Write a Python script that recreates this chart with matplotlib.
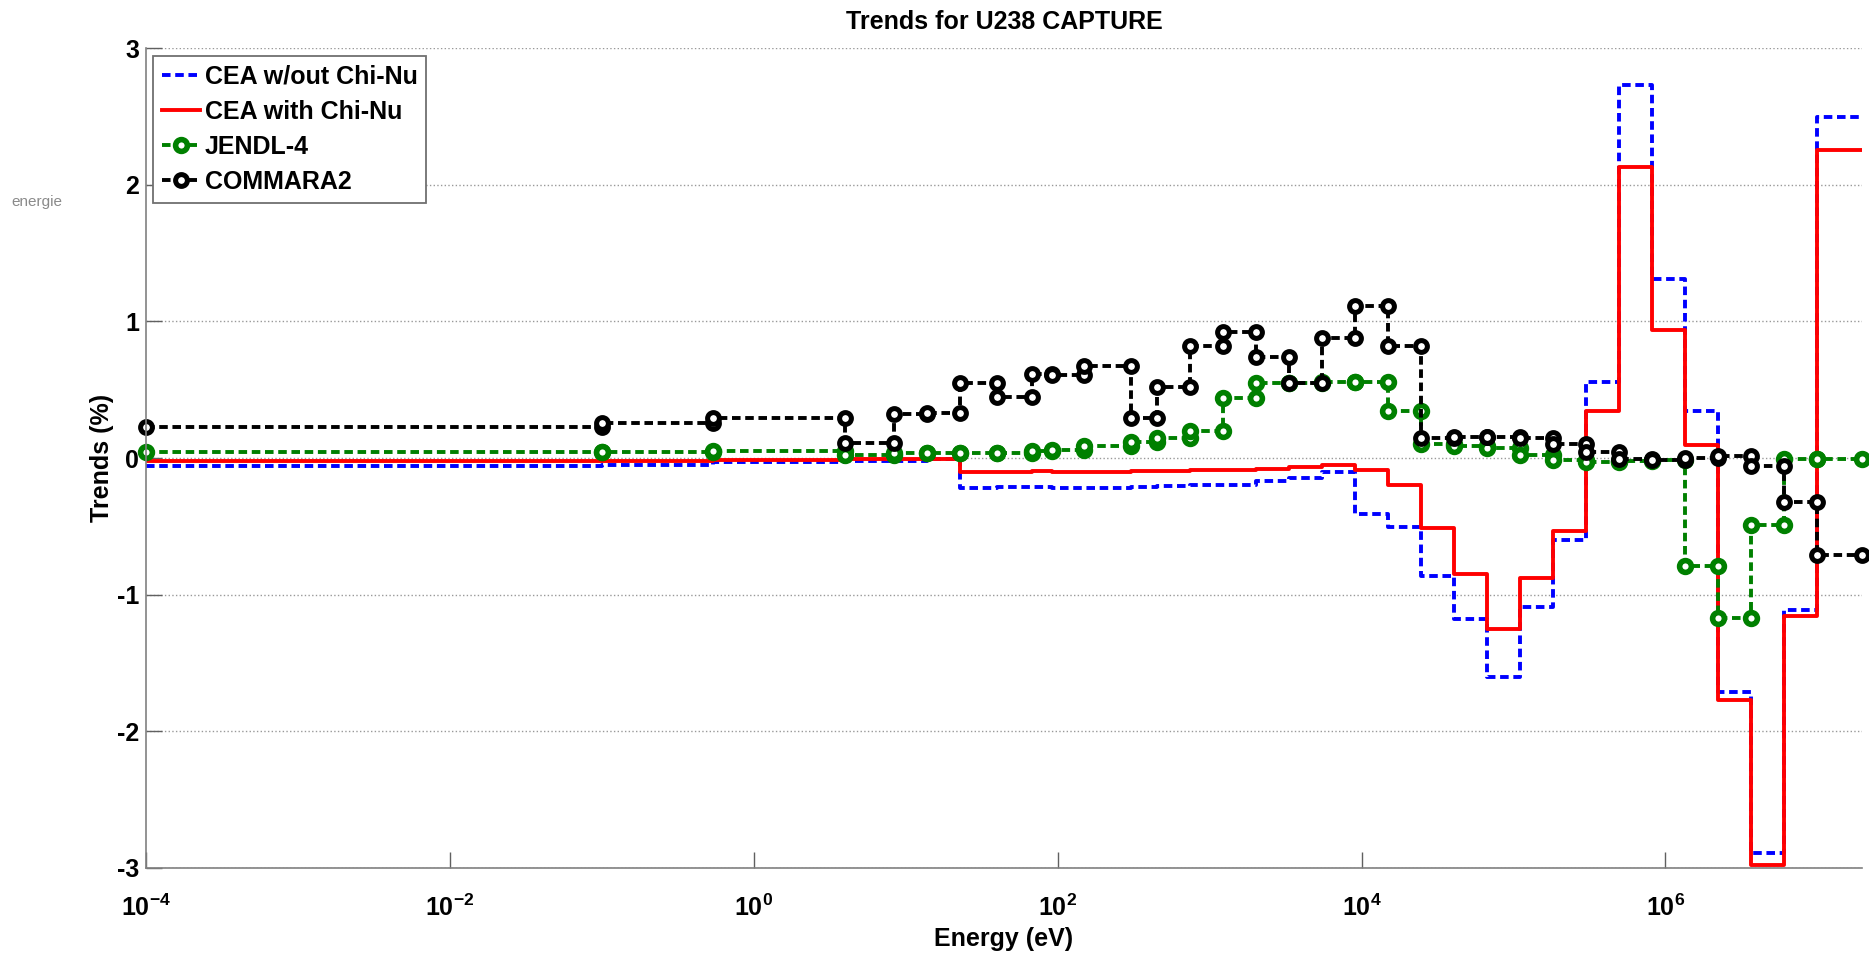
import numpy as np
import matplotlib
matplotlib.use("Agg")
import matplotlib.pyplot as plt
from matplotlib.ticker import FixedLocator, FuncFormatter

plt.rcParams['font.family'] = ['Liberation Sans', 'DejaVu Sans']
plt.rcParams['font.weight'] = 'bold'
plt.rcParams['axes.unicode_minus'] = False
plt.rcParams['mathtext.fontset'] = 'custom'
plt.rcParams['mathtext.rm'] = 'Liberation Sans:bold'
plt.rcParams['mathtext.it'] = 'Liberation Sans:bold'
plt.rcParams['mathtext.bf'] = 'Liberation Sans:bold'

# ECCO 33-group energy boundaries (eV), ascending
edges = [1e-4, 0.1, 0.54, 4.0, 8.3153, 13.710, 22.603, 40.169, 67.904, 91.661,
         148.63, 304.33, 454.00, 748.52, 1234.1, 2034.7, 3354.6, 5530.8, 9118.8,
         15034, 24788, 40868, 67379, 111090, 183160, 301970, 497870, 820850,
         1353400, 2231300, 3678800, 6065300, 1.0e7, 1.964e7]

# trends (%) per group, lowest energy group first
cea_wout = [-0.056, -0.049, -0.03, -0.02, -0.024, -0.008, -0.219, -0.209, -0.214, -0.219,
            -0.219, -0.214, -0.204, -0.194, -0.2, -0.165, -0.145, -0.105, -0.41, -0.507,
            -0.86, -1.18, -1.6, -1.09, -0.60, 0.559, 2.73, 1.307, 0.341, -1.71,
            -2.89, -1.11, 2.497]
cea_with = [-0.025, -0.025, -0.012, -0.005, -0.005, -0.005, -0.105, -0.10, -0.097, -0.105,
            -0.10, -0.097, -0.092, -0.09, -0.085, -0.08, -0.068, -0.05, -0.088, -0.195,
            -0.512, -0.85, -1.25, -0.88, -0.537, 0.341, 2.127, 0.939, 0.098, -1.774,
            -2.98, -1.154, 2.257]
jendl4 = [0.041, 0.046, 0.053, 0.02, 0.04, 0.034, 0.04, 0.036, 0.05, 0.06,
          0.09, 0.12, 0.15, 0.197, 0.442, 0.552, 0.549, 0.554, 0.559, 0.346,
          0.10, 0.09, 0.07, 0.024, -0.015, -0.027, -0.02, -0.015, -0.787, -1.17,
          -0.49, -0.005, -0.005]
commara2 = [0.224, 0.258, 0.29, 0.107, 0.32, 0.33, 0.552, 0.45, 0.617, 0.608,
            0.673, 0.29, 0.52, 0.82, 0.923, 0.739, 0.549, 0.878, 1.112, 0.82,
            0.146, 0.156, 0.151, 0.146, 0.102, 0.046, -0.007, -0.015, 0.0, 0.017,
            -0.06, -0.32, -0.71]


def steps(vals):
    e = np.array(edges)
    x = np.column_stack([e[:-1], e[1:]]).ravel()
    y = np.repeat(np.array(vals), 2)
    return x, y


fig = plt.figure(figsize=(18.69, 9.55), dpi=100)
ax = fig.add_axes([0.0781, 0.0911, 0.9181, 0.8586])

lw = 2.8
dash = (2.2, 1.2)
x, y = steps(cea_wout)
ax.plot(x, y, color='#0000ff', lw=lw, dashes=dash, label='CEA w/out Chi-Nu')
x, y = steps(cea_with)
ax.plot(x, y, color='#ff0000', lw=lw, label='CEA with Chi-Nu')
x, y = steps(jendl4)
ax.plot(x, y, color='#008000', lw=lw, dashes=dash, marker='o', ms=8.5,
        mfc='white', mew=4.0, label='JENDL-4', clip_on=False)
x, y = steps(commara2)
ax.plot(x, y, color='black', lw=lw, dashes=dash, marker='o', ms=8.5,
        mfc='white', mew=3.6, label='COMMARA2', clip_on=False)

ax.set_xscale('log')
ax.set_xlim(1e-4, 1.964e7)
ax.set_ylim(-3, 3)
ax.xaxis.set_major_locator(FixedLocator([1e-4, 1e-2, 1e0, 1e2, 1e4, 1e6]))
ax.xaxis.set_minor_locator(FixedLocator([]))
ax.xaxis.set_major_formatter(FuncFormatter(lambda v, p: r'$10^{%d}$' % round(np.log10(v))))
ax.set_yticks([-3, -2, -1, 0, 1, 2, 3])

ax.grid(axis='y', linestyle=':', color='#999999', lw=1.0)
ax.grid(axis='x', visible=False)
for s in ['top', 'right']:
    ax.spines[s].set_visible(False)
for s in ['left', 'bottom']:
    ax.spines[s].set_color('#808080')
    ax.spines[s].set_linewidth(1.2)

ax.tick_params(axis='both', direction='in', length=11.5, width=1.0, color='#606060',
               labelsize=18)
ax.tick_params(axis='x', pad=19.5)
ax.tick_params(axis='y', pad=5)

ax.set_xlabel('Energy (eV)', fontsize=18, fontweight='bold', labelpad=4)
ax.set_ylabel('Trends (%)', fontsize=18, fontweight='bold', labelpad=2)
ax.set_title('Trends for U238 CAPTURE', fontsize=18, fontweight='bold', pad=14)

leg = ax.legend(loc='upper left', fontsize=18, frameon=True, fancybox=False,
                framealpha=1, edgecolor='#707070', handlelength=1.5,
                handletextpad=0.2, borderpad=0.35, borderaxespad=0.3,
                labelspacing=0.45)
leg.get_frame().set_linewidth(1.3)

fig.text(0.006, 1 - 202 / 955, 'energie', color='#8a8a8a', fontsize=11,
         fontweight='normal', va='center')

fig.savefig('out.png', dpi=100)
